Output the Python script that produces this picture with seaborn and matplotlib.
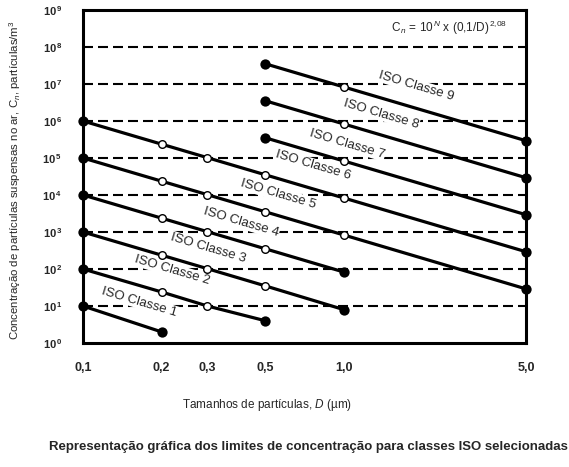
import numpy as np
import pandas as pd
import seaborn as sns
import matplotlib.pyplot as plt

# ISO 14644-1 concentration limits (particles/m3) per particle size
sizes = [0.1, 0.2, 0.3, 0.5, 1.0, 5.0]
iso_classes = [1, 2, 3, 4, 5, 6, 7, 8, 9]
limits = {
    1: [10, 2, None, None, None, None],
    2: [100, 24, 10, 4, None, None],
    3: [1000, 237, 102, 35, 8, None],
    4: [10000, 2370, 1020, 352, 83, None],
    5: [100000, 23700, 10200, 3520, 832, 29],
    6: [1000000, 237000, 102000, 35200, 8320, 293],
    7: [None, None, None, 352000, 83200, 2930],
    8: [None, None, None, 3520000, 832000, 29300],
    9: [None, None, None, 35200000, 8320000, 293000],
}
x_ticks = [0.1, 0.2, 0.3, 0.5, 1.0, 5.0]
x_ticklabels = ['0,1', '0,2', '0,3', '0,5', '1,0', '5,0']
y_exps = list(range(0, 10))
grid_exps = list(range(1, 9))

# where the class labels sit (data coords)
label_x = [0.165, 0.219, 0.302, 0.404, 0.56, 0.762, 1.03, 1.39, 1.89]
label_y = [12.8, 94, 370, 1862, 10640, 64600, 2.39e5, 1.55e6, 8.8e6]

rows = []
for c in iso_classes:
    for d, v in zip(sizes, limits[c]):
        if v is not None:
            rows.append({'classe': c, 'D': d, 'C': v})
df = pd.DataFrame(rows)
ends = df.groupby('classe', group_keys=False).apply(lambda g: g.iloc[[0, -1]])
mids = df.drop(ends.index)

sns.set_style('white')
plt.rcParams['font.family'] = ['Liberation Sans', 'DejaVu Sans']
plt.rcParams['mathtext.fontset'] = 'custom'
plt.rcParams['mathtext.rm'] = 'Liberation Sans'
plt.rcParams['mathtext.it'] = 'Liberation Sans:italic'
plt.rcParams['mathtext.bf'] = 'Liberation Sans:bold'

fig = plt.figure(figsize=(5.69, 4.67), dpi=100)
ax = fig.add_axes([0.1459, 0.2655, 0.7785, 0.7131])
ax.set_xscale('log')
ax.set_yscale('log')
ax.set_xlim(0.1, 5.0)
ax.set_ylim(1, 1e9)

for e in grid_exps:
    ax.axhline(10.0 ** e, color='black', lw=1.5, dashes=(4.8, 2.4), zorder=1)

sns.lineplot(data=df, x='D', y='C', units='classe', estimator=None,
             color='black', lw=2.3, ax=ax, zorder=3, legend=False)
sns.scatterplot(data=mids, x='D', y='C', ax=ax, s=30, color='white',
                edgecolor='black', linewidth=1.0, zorder=4, legend=False)
sns.scatterplot(data=ends, x='D', y='C', ax=ax, s=55, color='black',
                edgecolor='black', linewidth=0, zorder=5, legend=False)
for col in ax.collections:
    col.set_clip_on(False)

for c, lx, ly in zip(iso_classes, label_x, label_y):
    ax.text(lx, ly, f'ISO Classe {c}', rotation=-16.5, ha='center', va='center',
            fontsize=9.5, zorder=2, rotation_mode='anchor',
            bbox=dict(facecolor='white', edgecolor='none', pad=0.5))

ax.text(0.957, 0.945, r'C$_{\,\mathit{n}}$ = 10$^{\,\mathit{N}}$ x (0,1/D)$^{\,2{,}08}$',
        transform=ax.transAxes, ha='right', va='center', fontsize=8.5)

ax.set_xticks(x_ticks)
ax.set_xticklabels(x_ticklabels, fontweight='bold', fontsize=9)
ax.minorticks_off()
ax.set_yticks([10.0 ** e for e in y_exps])
ax.set_yticklabels([r'$\mathbf{10}^{\,\mathbf{%d}}$' % e for e in y_exps], fontsize=8)
ax.tick_params(axis='both', length=0)
ax.tick_params(axis='x', pad=14)
ax.tick_params(axis='y', pad=15)
ax.set_xlabel('')
ax.set_ylabel('')

for sp in ax.spines.values():
    sp.set_linewidth(2.2)
    sp.set_color('black')

fig.text(0.027, 0.615, r'Concentração de partículas suspensas no ar, C$_{n}$, partículas/m$^{3}$',
         rotation=90, ha='center', va='center', fontsize=8.2)
fig.text(0.47, 0.133, r'Tamanhos de partículas, $\mathit{D}$ (µm)',
         ha='center', va='center', fontsize=8.5)
fig.text(0.542, 0.043,
         'Representação gráfica dos limites de concentração para classes ISO selecionadas',
         ha='center', va='center', fontsize=9.5, fontweight='bold')

fig.savefig('out.png', dpi=100)
